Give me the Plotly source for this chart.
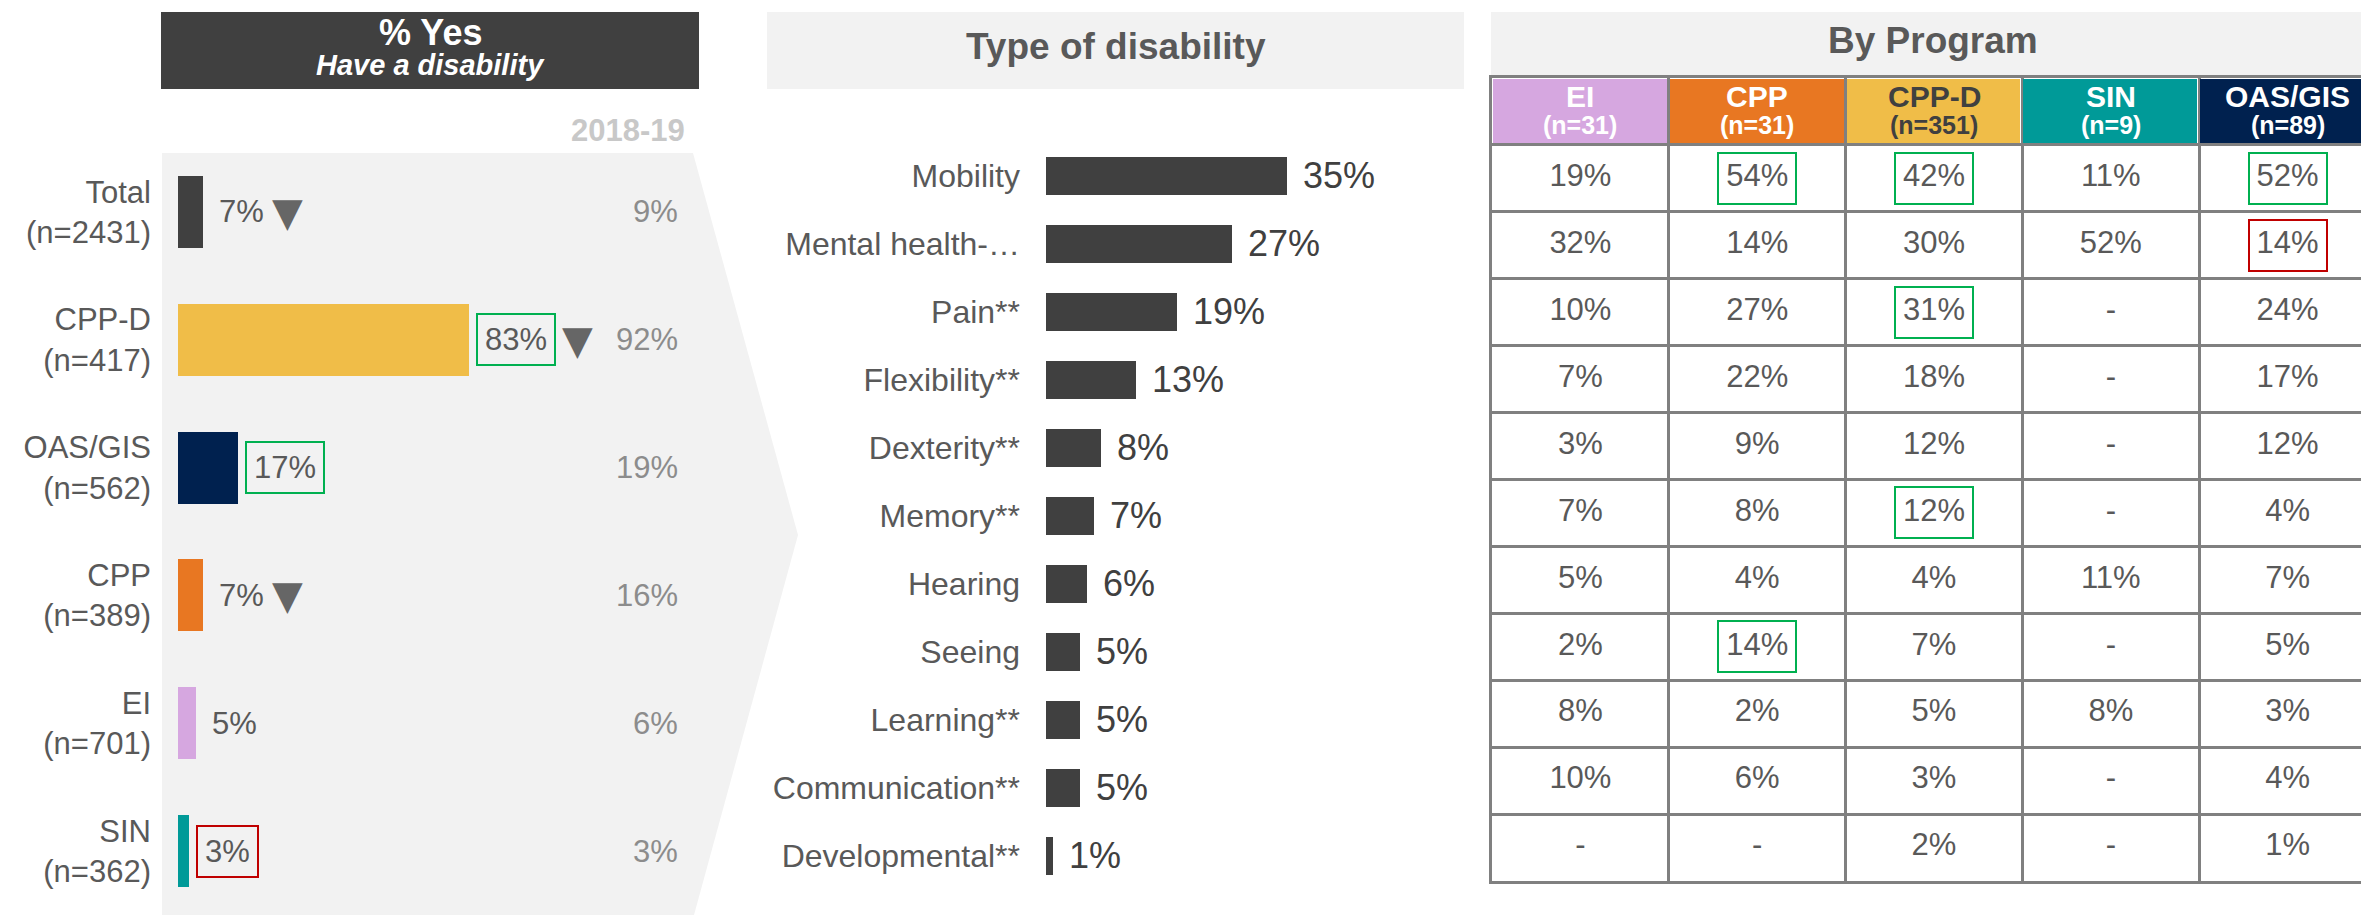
import plotly.graph_objects as go

W, H = 2361, 915
FONT = "Liberation Sans, Arial, sans-serif"

# ---------------- data ----------------
# Left panel: % Yes - have a disability
groups = ["Total", "CPP-D", "OAS/GIS", "CPP", "EI", "SIN"]
group_n = [2431, 417, 562, 389, 701, 362]
yes_pct = [7, 83, 17, 7, 5, 3]
prev_pct = [9, 92, 19, 16, 6, 3]          # 2018-19
sig_down = [True, True, False, True, False, False]
sig_box = ["", "green", "green", "", "", "red"]
group_colors = ["#404040", "#F0BD48", "#00214F", "#E87722", "#D6A7E0", "#009A98"]

# Middle panel: type of disability
types = ["Mobility", "Mental health-…", "Pain**", "Flexibility**", "Dexterity**",
         "Memory**", "Hearing", "Seeing", "Learning**", "Communication**",
         "Developmental**"]
type_pct = [35, 27, 19, 13, 8, 7, 6, 5, 5, 5, 1]

# Right panel: by program
programs = ["EI", "CPP", "CPP-D", "SIN", "OAS/GIS"]
program_n = [31, 31, 351, 9, 89]
program_colors = ["#D6A7E0", "#E87722", "#F0BD48", "#009A98", "#00214F"]
program_text_colors = ["#FFFFFF", "#FFFFFF", "#404040", "#FFFFFF", "#FFFFFF"]
by_program = {
    "EI":      [19, 32, 10, 7, 3, 7, 5, 2, 8, 10, None],
    "CPP":     [54, 14, 27, 22, 9, 8, 4, 14, 2, 6, None],
    "CPP-D":   [42, 30, 31, 18, 12, 12, 4, 7, 5, 3, 2],
    "SIN":     [11, 52, None, None, None, None, 11, None, 8, None, None],
    "OAS/GIS": [52, 14, 24, 17, 12, 4, 7, 5, 3, 4, 1],
}
# highlighted cells: (program, type index, colour)
cell_flags = [("CPP", 0, "green"), ("CPP-D", 0, "green"), ("OAS/GIS", 0, "green"),
              ("OAS/GIS", 1, "red"), ("CPP-D", 2, "green"), ("CPP-D", 5, "green"),
              ("CPP", 7, "green")]

# ---------------- styling ----------------
GREEN = "#00B050"
RED = "#C00000"
FLAG = {"green": GREEN, "red": RED, "": "rgba(0,0,0,0)"}
LABEL = "#595959"
DARK = "#404040"
LIGHT_BG = "#F2F2F2"
GRID = "#808080"


def fx(px):
    return px / W


def fy(py):
    return 1 - py / H


def text_w(s, size):
    w = 0
    for ch in s:
        w += 0.889 if ch == "%" else 0.556
    return w * size


fig = go.Figure()

# ---- left bars ----
fig.add_trace(go.Bar(
    x=yes_pct, y=groups, orientation="h", width=0.5625,
    marker=dict(color=group_colors, line=dict(width=0)),
    xaxis="x", yaxis="y", hoverinfo="skip"))

# ---- middle bars ----
fig.add_trace(go.Bar(
    x=type_pct, y=types, orientation="h", width=0.545,
    marker=dict(color=DARK, line=dict(width=0)),
    xaxis="x2", yaxis="y2", hoverinfo="skip"))

# ---- table: header fill ----
n_prog = len(programs)
cs = []
for i, c in enumerate(program_colors):
    cs.append([i / n_prog, c])
    cs.append([(i + 1) / n_prog, c])
fig.add_trace(go.Heatmap(
    x=programs, y=["hdr"], z=[list(range(n_prog))], zmin=-0.5, zmax=n_prog - 0.5,
    colorscale=cs, showscale=False, xgap=3, ygap=3,
    xaxis="x3", yaxis="y3", hoverinfo="skip"))

# body text
bx, by, bt = [], [], []
for p in programs:
    for t, v in zip(types, by_program[p]):
        bx.append(p)
        by.append(t)
        bt.append("-" if v is None else f"{v}%")
fig.add_trace(go.Scatter(
    x=bx, y=by, mode="text", text=bt,
    textfont=dict(family=FONT, size=31, color=LABEL),
    xaxis="x3", yaxis="y3", hoverinfo="skip"))

annotations = []
shapes = []

# header text of table
for p, n, tc in zip(programs, program_n, program_text_colors):
    annotations.append(dict(
        x=p, y="hdr", xref="x3", yref="y3", text=f"<b>{p}</b>", showarrow=False,
        xanchor="center", yanchor="middle", yshift=15,
        font=dict(family=FONT, size=30, color=tc)))
    annotations.append(dict(
        x=p, y="hdr", xref="x3", yref="y3", text=f"<b>(n={n})</b>", showarrow=False,
        xanchor="center", yanchor="middle", yshift=-14,
        font=dict(family=FONT, size=25, color=tc)))

# ---- left panel labels ----
for g, v, pv, down, flag in zip(groups, yes_pct, prev_pct, sig_down, sig_box):
    s = f"{v}%"
    annotations.append(dict(
        x=v, y=g, xref="x", yref="y", text=s, showarrow=False,
        xanchor="left", yanchor="middle", xshift=7,
        font=dict(family=FONT, size=31, color=LABEL),
        bordercolor=FLAG[flag], borderwidth=2, borderpad=7))
    if down:
        annotations.append(dict(
            x=v, y=g, xref="x", yref="y", text="▼", showarrow=False,
            xanchor="left", yanchor="middle",
            xshift=text_w(s, 31) + (28.5 if flag else 22.5),
            font=dict(family="DejaVu Sans", size=40, color="#666666")))
    annotations.append(dict(
        x=fx(680), y=g, xref="paper", yref="y", text=f"{pv}%", showarrow=False,
        xanchor="right", yanchor="middle",
        font=dict(family=FONT, size=31, color="#8C8C8C")))

# ---- middle panel values ----
for t, v in zip(types, type_pct):
    annotations.append(dict(
        x=v, y=t, xref="x2", yref="y2", text=f"{v}%", showarrow=False,
        xanchor="left", yanchor="middle", xshift=14,
        font=dict(family=FONT, size=36, color=DARK)))

# ---- table highlight boxes ----
for p, ti, flag in cell_flags:
    v = by_program[p][ti]
    annotations.append(dict(
        x=p, y=types[ti], xref="x3", yref="y3", text=f"{v}%", showarrow=False,
        xanchor="center", yanchor="middle",
        font=dict(family=FONT, size=31, color="rgba(0,0,0,0)"),
        bordercolor=FLAG[flag], borderwidth=2, borderpad=7))

# ---- headers ----
shapes.append(dict(type="rect", xref="paper", yref="paper",
                   x0=fx(161), x1=fx(699), y0=fy(89), y1=fy(12),
                   fillcolor=DARK, line=dict(width=0), layer="below"))
shapes.append(dict(type="rect", xref="paper", yref="paper",
                   x0=fx(767), x1=fx(1464), y0=fy(89), y1=fy(12),
                   fillcolor=LIGHT_BG, line=dict(width=0), layer="below"))
shapes.append(dict(type="rect", xref="paper", yref="paper",
                   x0=fx(1491), x1=1.0, y0=fy(77), y1=fy(12),
                   fillcolor=LIGHT_BG, line=dict(width=0), layer="below"))
# chevron background of left panel
path = (f"M {fx(162)},{fy(153)} L {fx(693)},{fy(153)} L {fx(798)},{fy(535)} "
        f"L {fx(694)},{fy(915)} L {fx(162)},{fy(915)} Z")
shapes.append(dict(type="path", xref="paper", yref="paper", path=path,
                   fillcolor=LIGHT_BG, line=dict(width=0), layer="below"))

annotations += [
    dict(x=fx(430), y=fy(33), xref="paper", yref="paper", text="<b>% Yes</b>",
         showarrow=False, xanchor="center", yanchor="middle",
         font=dict(family=FONT, size=36, color="#FFFFFF")),
    dict(x=fx(430), y=fy(65), xref="paper", yref="paper",
         text="<b><i>Have a disability</i></b>",
         showarrow=False, xanchor="center", yanchor="middle",
         font=dict(family=FONT, size=29, color="#FFFFFF")),
    dict(x=fx(1116), y=fy(47), xref="paper", yref="paper",
         text="<b>Type of disability</b>",
         showarrow=False, xanchor="center", yanchor="middle",
         font=dict(family=FONT, size=37, color=LABEL)),
    dict(x=fx(1933), y=fy(41), xref="paper", yref="paper",
         text="<b>By Program</b>",
         showarrow=False, xanchor="center", yanchor="middle",
         font=dict(family=FONT, size=37, color=LABEL)),
    dict(x=fx(687), y=fy(131), xref="paper", yref="paper",
         text="<b>2018-19</b>",
         showarrow=False, xanchor="right", yanchor="middle",
         font=dict(family=FONT, size=31, color="#C8C8C8")),
]

left_ticks = [f"{g}<br>(n={n})" for g, n in zip(groups, group_n)]
col_w = (2376 - 1492) / n_prog

fig.update_layout(
    width=W, height=H,
    margin=dict(l=0, r=0, t=0, b=0),
    paper_bgcolor="#FFFFFF", plot_bgcolor="rgba(0,0,0,0)",
    showlegend=False, hovermode=False,
    font=dict(family=FONT, color=LABEL),
    bargap=0,
    xaxis=dict(domain=[fx(178), fx(700)], range=[0, (700 - 178) / 3.506],
               visible=False, fixedrange=True),
    yaxis=dict(domain=[fy(915), fy(148)], type="category",
               categoryorder="array", categoryarray=groups,
               tickvals=groups, ticktext=left_ticks,
               range=[len(groups) - 0.5, -0.5], showgrid=False, zeroline=False,
               showline=False, ticks="", ticklabelstandoff=26,
               tickfont=dict(family=FONT, size=31, color=LABEL), fixedrange=True),
    xaxis2=dict(domain=[fx(1046), fx(1464)], range=[0, (1464 - 1046) / 6.886],
                visible=False, anchor="y2", fixedrange=True),
    yaxis2=dict(domain=[fy(889.5), fy(141.5)], type="category", anchor="x2",
                categoryorder="array", categoryarray=types,
                range=[len(types) - 0.5, -0.5], showgrid=False, zeroline=False,
                showline=False, ticks="", ticklabelstandoff=25,
                tickfont=dict(family=FONT, size=32, color=LABEL), fixedrange=True),
    xaxis3=dict(domain=[fx(1492), 1.0], type="category", anchor="y3",
                categoryorder="array", categoryarray=programs,
                range=[-0.5, n_prog - 0.5 - (2376 - W) / col_w],
                showticklabels=False, ticks="", tickson="boundaries",
                showgrid=True, gridcolor=GRID, gridwidth=3, zeroline=False,
                showline=True, linecolor=GRID, linewidth=3, mirror=True,
                fixedrange=True),
    yaxis3=dict(domain=[fy(881), fy(78)], type="category", anchor="x3",
                categoryorder="array", categoryarray=["hdr"] + types,
                range=[len(types) + 0.5, -0.5],
                showticklabels=False, ticks="", tickson="boundaries",
                showgrid=True, gridcolor=GRID, gridwidth=3, zeroline=False,
                showline=True, linecolor=GRID, linewidth=3, mirror=False,
                fixedrange=True),
    annotations=annotations,
    shapes=shapes,
)

fig.write_html("out.html", config={"displayModeBar": False},
               post_script="document.body.style.margin='0';")
